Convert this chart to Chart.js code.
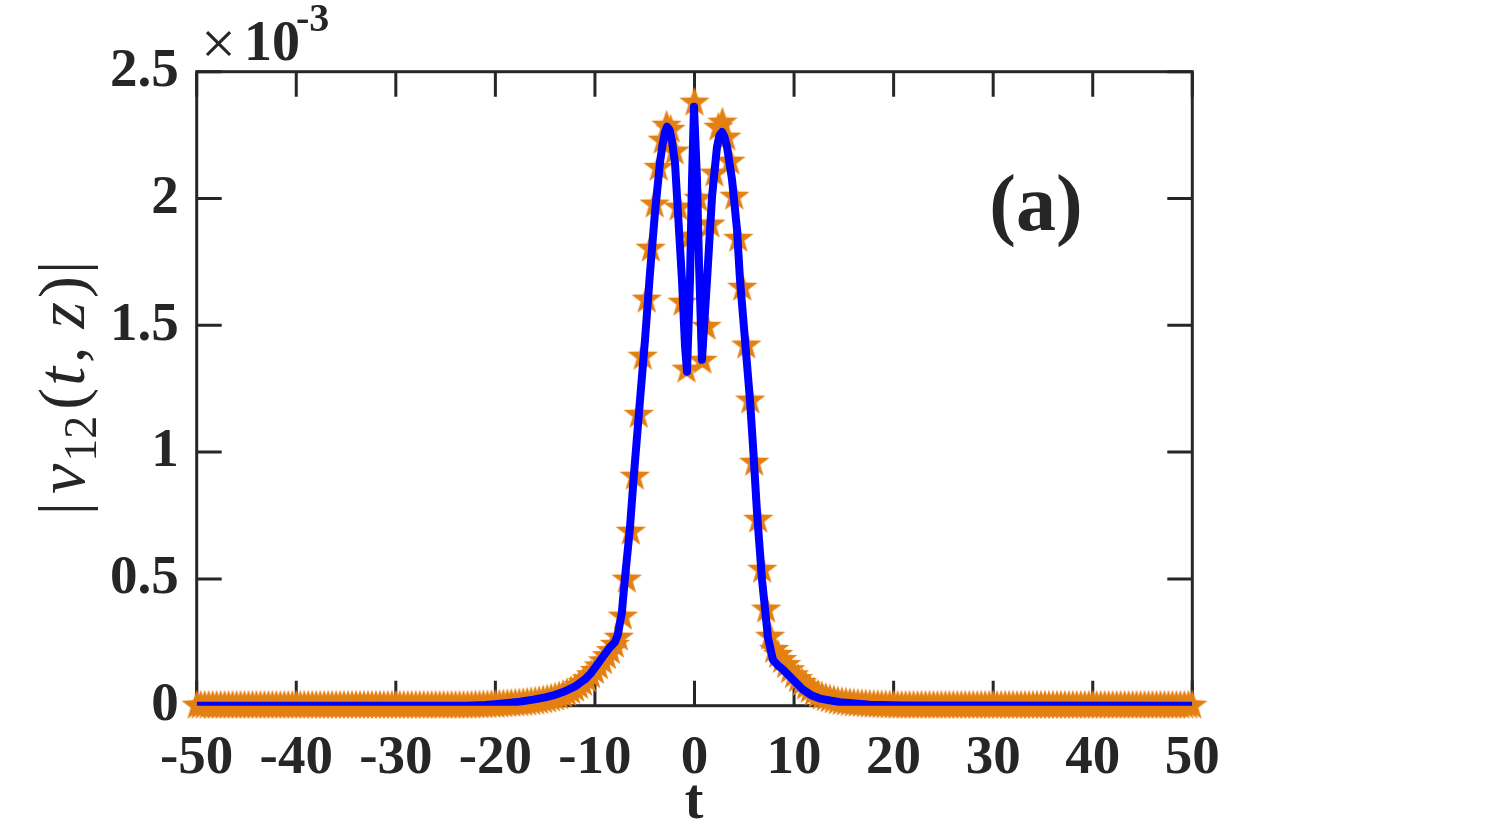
<!DOCTYPE html>
<html>
<head>
<meta charset="utf-8">
<script src="https://cdn.jsdelivr.net/npm/chart.js@4.4.1/dist/chart.umd.min.js"></script>
<style>
  html, body { margin: 0; padding: 0; background: #fff; }
  #wrap { width: 1511px; height: 832px; }
</style>
</head>
<body>
<div id="wrap"><canvas id="c" width="1511" height="832"></canvas></div>
<script>
// axis ticks
const xTicks = [-50, -40, -30, -20, -10, 0, 10, 20, 30, 40, 50];
const yTicks = [0, 0.5, 1, 1.5, 2, 2.5];

// numerical solution (stars), sampled every 0.4 from -50 to 50, values in units of 1e-3
const tStar = Array.from({ length: 251 }, (_, i) => +(-50 + i * 0.4).toFixed(1));
const vStar = [
  // -50 .. -22.4
  0, 0, 0, 0, 0, 0, 0, 0, 0, 0,
  0, 0, 0, 0, 0, 0, 0, 0, 0, 0,
  0, 0, 0, 0, 0, 0, 0, 0, 0, 0,
  0, 0, 0, 0, 0, 0, 0, 0, 0, 0,
  0, 0, 0, 0, 0, 0, 0, 0, 0, 0,
  0, 0, 0, 0, 0, 0, 0, 0, 0, 0,
  0, 0, 0, 0, 0, 0, 0, 0, 0, 0,
  // -22.0 .. -18.4
  0.001, 0.001, 0.002, 0.002, 0.003, 0.003, 0.004, 0.005, 0.006, 0.007,
  // -18.0 .. -14.4
  0.008, 0.009, 0.010, 0.012, 0.014, 0.016, 0.018, 0.021, 0.024, 0.028,
  // -14.0 .. -10.4
  0.032, 0.037, 0.043, 0.050, 0.058, 0.067, 0.078, 0.090, 0.104, 0.120,
  // -10.0 .. -6.4
  0.137, 0.155, 0.175, 0.195, 0.215, 0.240, 0.268, 0.351, 0.497, 0.686,
  // -6.0 .. -2.4
  0.903, 1.147, 1.376, 1.601, 1.802, 1.976, 2.121, 2.228, 2.287, 2.271,
  // -2.0 .. 1.6
  2.185, 1.964, 1.589, 1.325, 1.849, 2.378, 1.999, 1.360, 1.494, 1.897,
  // 2.0 .. 5.6
  2.098, 2.279, 2.299, 2.240, 2.145, 2.007, 1.841, 1.648, 1.420, 1.203,
  // 6.0 .. 9.6
  0.958, 0.733, 0.536, 0.379, 0.272, 0.220, 0.200, 0.180, 0.160, 0.140,
  // 10.0 .. 13.6
  0.120, 0.105, 0.090, 0.075, 0.063, 0.052, 0.043, 0.036, 0.030, 0.025,
  // 14.0 .. 17.6
  0.021, 0.017, 0.014, 0.012, 0.010, 0.008, 0.007, 0.006, 0.005, 0.004,
  // 18.0 .. 21.6
  0.003, 0.003, 0.002, 0.002, 0.001, 0.001, 0, 0, 0, 0,
  // 22.0 .. 50
  0, 0, 0, 0, 0, 0, 0, 0, 0, 0,
  0, 0, 0, 0, 0, 0, 0, 0, 0, 0,
  0, 0, 0, 0, 0, 0, 0, 0, 0, 0,
  0, 0, 0, 0, 0, 0, 0, 0, 0, 0,
  0, 0, 0, 0, 0, 0, 0, 0, 0, 0,
  0, 0, 0, 0, 0, 0, 0, 0, 0, 0,
  0, 0, 0, 0, 0, 0, 0, 0, 0, 0,
  0
];

// exact solution (blue line)
const tLine = [-50, -23, -21, -19.5, -17.5, -16.2, -15, -14, -13, -12, -11, -10.4, -9.8, -9.2, -8.5, -8.0, -7.7,
  -7.3, -7.0, -6.5, -6.1, -5.47, -4.97, -4.47, -3.97, -3.47, -3.2, -2.96, -2.76, -2.5, -2.26, -1.96, -1.66,
  -1.26, -0.95, -0.75, -0.45, -0.25, -0.05, 0.25, 0.45, 0.75, 1.26, 1.76, 2.26, 2.5, 2.76, 3.0, 3.26, 3.77,
  4.27, 4.57, 5.07, 5.57, 5.88, 6.28, 6.78, 7.38, 7.88, 8.4, 8.89, 9.89, 10.9, 11.8, 12.6, 14.6, 17.6, 21, 50];
const vLine = [0, 0, 0.003, 0.008, 0.016, 0.024, 0.033, 0.043, 0.057, 0.076, 0.104, 0.128, 0.160, 0.193, 0.230, 0.250, 0.280,
  0.367, 0.497, 0.694, 0.903, 1.207, 1.443, 1.707, 1.944, 2.141, 2.215, 2.262, 2.283, 2.270, 2.225, 2.141, 1.944,
  1.680, 1.416, 1.317, 1.680, 2.074, 2.362, 2.074, 1.747, 1.364, 1.680, 2.007, 2.204, 2.248, 2.262, 2.245, 2.204, 2.074,
  1.877, 1.680, 1.443, 1.207, 1.021, 0.761, 0.497, 0.268, 0.181, 0.158, 0.142, 0.103, 0.063, 0.040, 0.028, 0.014, 0.004, 0.001, 0];

if (vStar.length !== tStar.length) console.error('star data length', vStar.length);
if (vLine.length !== tLine.length) console.error('line data length', vLine.length);

const ink = '#262626';
const orange = 'rgb(228,128,18)';

function makeStar(r, color) {
  const c = document.createElement('canvas');
  const s = Math.ceil(r * 2) + 2;
  c.width = c.height = s;
  const g = c.getContext('2d');
  g.fillStyle = color;
  g.beginPath();
  for (let k = 0; k < 10; k++) {
    const rad = k % 2 === 0 ? r : r * 0.4;
    const a = -Math.PI / 2 + k * Math.PI / 5;
    g.lineTo(s / 2 + rad * Math.cos(a), s / 2 + rad * Math.sin(a));
  }
  g.closePath();
  g.fill();
  return c;
}
const starImg = makeStar(16, orange);

// box + inward ticks, drawn under the data
const frame = {
  id: 'frame',
  beforeDatasetsDraw(chart) {
    const { ctx, chartArea: a, scales } = chart;
    const len = 25;
    ctx.save();
    ctx.strokeStyle = ink;
    ctx.lineWidth = 3;
    ctx.strokeRect(a.left, a.top, a.right - a.left, a.bottom - a.top);
    ctx.beginPath();
    xTicks.forEach(v => {
      const x = scales.x.getPixelForValue(v);
      ctx.moveTo(x, a.bottom); ctx.lineTo(x, a.bottom - len);
      ctx.moveTo(x, a.top); ctx.lineTo(x, a.top + len);
    });
    yTicks.forEach(v => {
      const y = scales.y.getPixelForValue(v);
      ctx.moveTo(a.left, y); ctx.lineTo(a.left + len, y);
      ctx.moveTo(a.right, y); ctx.lineTo(a.right - len, y);
    });
    ctx.stroke();
    ctx.restore();
  },
  afterDraw(chart) {
    const ctx = chart.ctx;
    ctx.save();
    ctx.fillStyle = ink;
    ctx.textBaseline = 'alphabetic';

    // exponent label
    ctx.textAlign = 'left';
    ctx.font = '62px "Liberation Serif"';
    ctx.fillText('\u00d7', 201, 64);
    ctx.font = 'bold 56px "Liberation Serif"';
    ctx.fillText('10', 244, 60);
    ctx.font = 'bold 40px "Liberation Serif"';
    ctx.fillText('-3', 296, 31);

    // panel label
    ctx.textAlign = 'center';
    ctx.font = 'bold 80px "Liberation Serif"';
    ctx.fillText('(a)', 1036, 230);

    // x title
    ctx.font = 'bold 56px "Liberation Serif"';
    ctx.fillText('t', 694, 818);

    // y title, rotated, math-style spacing
    ctx.translate(84, 388);
    ctx.rotate(-Math.PI / 2);
    const parts = [
      ['|', '66px "Liberation Serif"', 0, 8],
      ['v', 'italic 68px "Liberation Serif"', 0, 2],
      ['12', '46px "Liberation Serif"', 12, 6],
      ['(', '66px "Liberation Serif"', 0, 2],
      ['t', 'italic 68px "Liberation Serif"', 0, 4],
      [',', '66px "Liberation Serif"', 0, 18],
      ['z', 'italic 68px "Liberation Serif"', 0, 4],
      [')', '66px "Liberation Serif"', 0, 2],
      ['|', '66px "Liberation Serif"', 0, 0]
    ];
    let total = 0;
    parts.forEach(p => { ctx.font = p[1]; total += ctx.measureText(p[0]).width + p[3]; });
    let x = -total / 2;
    ctx.textAlign = 'left';
    parts.forEach(p => {
      ctx.font = p[1];
      ctx.fillText(p[0], x, p[2]);
      x += ctx.measureText(p[0]).width + p[3];
    });
    ctx.restore();
  }
};

new Chart(document.getElementById('c'), {
  type: 'line',
  data: {
    datasets: [
      {
        data: tLine.map((t, i) => ({ x: t, y: vLine[i] })),
        borderColor: '#0000ff',
        borderWidth: 8,
        borderJoinStyle: 'round',
        pointRadius: 0,
        tension: 0,
        order: 0
      },
      {
        data: tStar.map((t, i) => ({ x: t, y: vStar[i] })),
        showLine: false,
        pointStyle: starImg,
        pointRadius: 16,
        clip: false,
        order: 1
      }
    ]
  },
  options: {
    responsive: false,
    animation: false,
    layout: { padding: { top: 71.7, right: 318.7, left: 0, bottom: 0 } },
    plugins: { legend: { display: false }, tooltip: { enabled: false } },
    scales: {
      x: {
        type: 'linear',
        min: -50,
        max: 50,
        afterBuildTicks: s => { s.ticks = xTicks.map(v => ({ value: v })); },
        afterFit: s => { s.height = 832 - 705.7; },
        grid: { display: false, drawTicks: false },
        border: { display: false },
        ticks: { color: ink, padding: 20, font: { family: 'Liberation Serif', weight: 'bold', size: 55 },
          callback: v => String(v) }
      },
      y: {
        min: 0,
        max: 2.5,
        afterBuildTicks: s => { s.ticks = yTicks.map(v => ({ value: v })); },
        afterFit: s => { s.width = 196.7; },
        grid: { display: false, drawTicks: false },
        border: { display: false },
        ticks: { color: ink, padding: 18, font: { family: 'Liberation Serif', weight: 'bold', size: 55 },
          callback: v => String(v) }
      }
    }
  },
  plugins: [frame]
});
</script>
</body>
</html>
